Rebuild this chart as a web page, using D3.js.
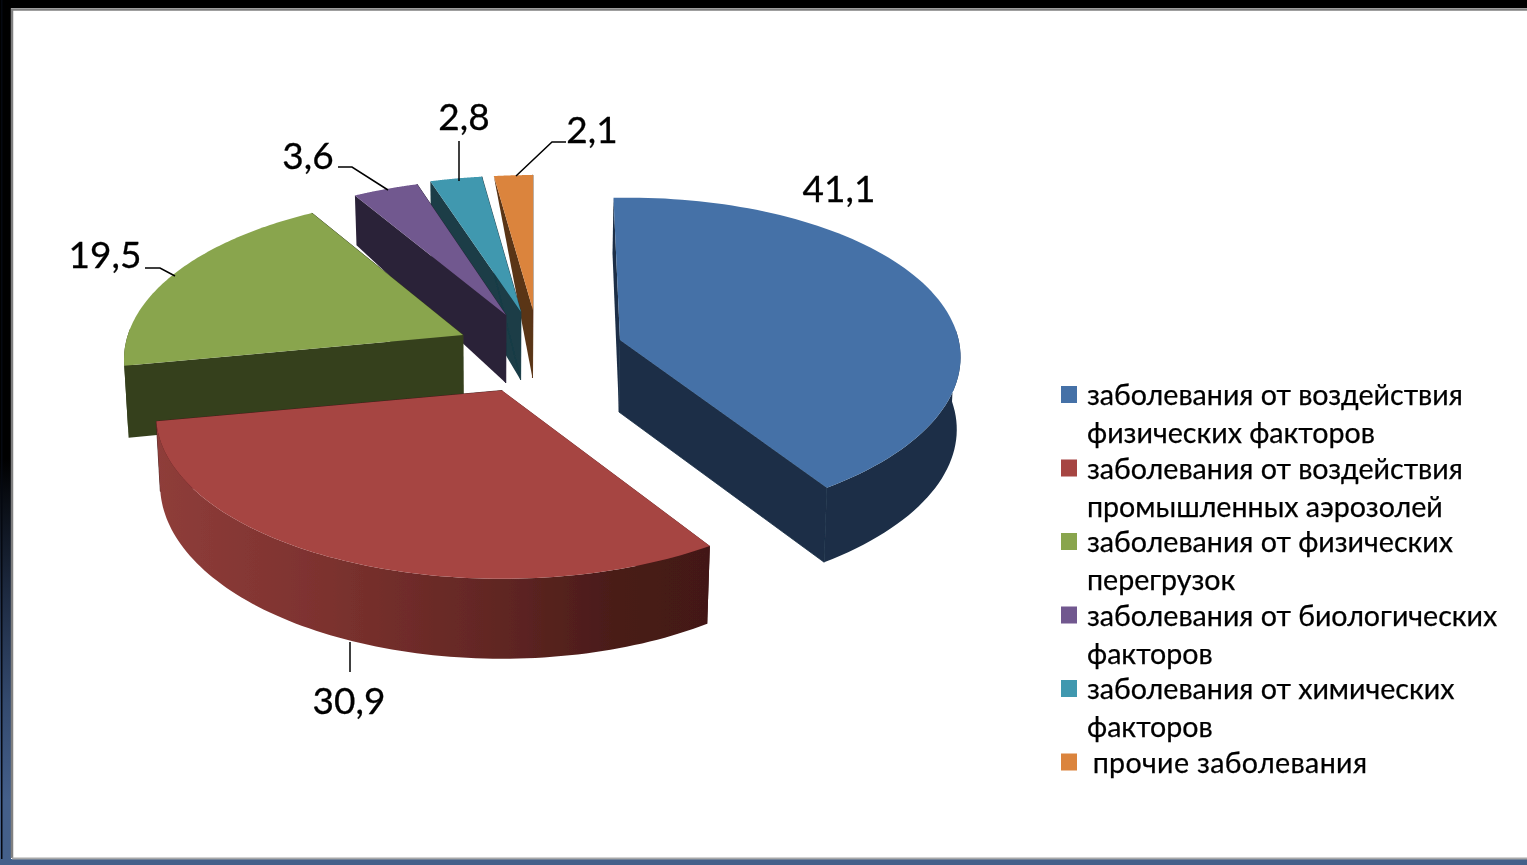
<!DOCTYPE html>
<html><head><meta charset="utf-8">
<script src="https://cdn.jsdelivr.net/npm/d3@7/dist/d3.min.js"></script>
<style>html,body{margin:0;padding:0;background:#fff;overflow:hidden}svg{display:block}</style>
</head><body><svg id="c" width="1527" height="865"></svg>
<script>
const values = [41.1, 30.9, 19.5, 3.6, 2.8, 2.1];
const valueLabels = ["41,1", "30,9", "19,5", "3,6", "2,8", "2,1"];
const legendLines = [
  ["заболевания от воздействия", "физических факторов"],
  ["заболевания от воздействия", "промышленных аэрозолей"],
  ["заболевания от физических", "перегрузок"],
  ["заболевания от биологических", "факторов"],
  ["заболевания от химических", "факторов"],
  [" прочие заболевания"]
];
const topColors = ["#4471a7", "#a64442", "#89a54e", "#71588f", "#4198af", "#db843d"];
const sideColors = ["#1b2e46", "url(#redWall)", "#36401e", "#2c2238", "#1a3c46", "#5a3518"];

// layout of the exploded slices (screen position of each slice's tip and per-slice projection tweaks)
const tipX = [620, 502, 463, 506, 521, 533];
const tipY = [340, 390.5, 335, 315, 312, 310];
const wallDepth = [72, 68, 70, 68, 68, 68];
const depthGrow = [0.3, 1, 1, 1, 1, 1];
const backFade = [0.2, 0, 0, 0.2, 0.2, 1.05];
const rxScale = [0.985, 1, 0.98, 0.98, 1, 1];
const ryScale = [1, 1, 1, 0.98, 0.98, 0.97];
const shearY = [0.02, 0, 0, 0, 0, 0];
const lean = [0.45, 0, 0, 0, 0, 0];
const persp = [0.125, 0.15, 0.15, 0.15, 0.15, 0.15];
const converge = [0.008, 0.012, 0.012, 0.012, 0.012, 0.012];
const RX = 342, RY = 160, VX = 490;

const svg = d3.select("#c");
const defs = svg.append("defs");
const soft = defs.append("filter").attr("id", "soft").attr("x", "-5%").attr("y", "-5%").attr("width", "110%").attr("height", "110%");
soft.append("feGaussianBlur").attr("stdDeviation", 0.5);
const bandGrad = defs.append("linearGradient").attr("id", "band").attr("x1", 0).attr("x2", 0).attr("y1", 0).attr("y2", 1);
[[0, "#000"], [0.53, "#000"], [0.69, "#1e2b42"], [0.81, "#33496d"], [0.925, "#445f8a"], [1, "#44608a"]].forEach(s =>
  bandGrad.append("stop").attr("offset", s[0]).attr("stop-color", s[1]));
const redGrad = defs.append("linearGradient").attr("id", "redWall").attr("gradientUnits", "userSpaceOnUse")
  .attr("x1", 154).attr("x2", 706).attr("y1", 0).attr("y2", 0);
[[0, "#8f3d3a"], [0.3, "#7d322f"], [0.6, "#632724"], [0.85, "#481b18"], [1, "#431917"]].forEach(s =>
  redGrad.append("stop").attr("offset", s[0]).attr("stop-color", s[1]));

// frame
svg.append("rect").attr("width", 1527).attr("height", 865).attr("fill", "#fff");
svg.append("rect").attr("x", 0).attr("y", 0).attr("width", 1527).attr("height", 8).attr("fill", "#000");
svg.append("rect").attr("x", 0).attr("y", 0).attr("width", 11).attr("height", 865).attr("fill", "url(#band)");
svg.append("rect").attr("x", 1).attr("y", 0).attr("width", 1.5).attr("height", 865).attr("fill", "#050810");
svg.append("rect").attr("x", 0).attr("y", 859).attr("width", 1527).attr("height", 6).attr("fill", "#44608a");
svg.append("path").attr("d", "M12,858V9.5H1527").attr("fill", "none").attr("stroke", "#808080").attr("stroke-width", 2.5);
svg.append("path").attr("d", "M12,858.5H1527").attr("fill", "none").attr("stroke", "#a8a8a8").attr("stroke-width", 2);

const pie = d3.pie().sort(null)(values);

function project(i, a, r) {
  const zz = -Math.cos(a) * r, x = Math.sin(a) * r;
  const w = 1 / (1 - persp[i] * zz);
  const dx = RX * rxScale[i] * x * w;
  return {
    x: tipX[i] + dx + (tipX[i] - VX) * (w - 1) * lean[i],
    y: tipY[i] + RY * ryScale[i] * zz * w - shearY[i] * dx,
    w, zz
  };
}
function lower(i, p) {
  const fade = Math.max(0, 1 + (p.zz < 0 ? p.zz * backFade[i] : 0));
  const d = wallDepth[i] * (1 + (p.w - 1) * depthGrow[i]) * fade;
  return [p.x + (VX - p.x) * converge[i], p.y + d];
}
const line = d3.line().x(d => d[0]).y(d => d[1]);

function arcPoints(i) {
  const s = pie[i], n = 90, pts = [];
  const t = d3.scaleLinear().domain([0, n]).range([s.startAngle, s.endAngle]);
  for (let k = 0; k <= n; k++) pts.push(project(i, t(k), 1));
  return pts;
}

const order = [0, 5, 4, 3, 2, 1];
const g = svg.append("g").attr("filter", "url(#soft)");
order.forEach(i => {
  const rim = arcPoints(i), tip = project(i, 0, 0);
  const first = rim[0], last = rim[rim.length - 1];
  const flat = sideColors[i] === "url(#redWall)" ? "#431917" : sideColors[i];
  const face = p => line([[tip.x, tip.y], [p.x, p.y], lower(i, p), lower(i, tip)]) + "Z";
  g.append("path").attr("d", face(first)).attr("fill", flat);
  g.append("path").attr("d", face(last)).attr("fill", flat).attr("stroke", flat).attr("stroke-width", 0.8);
  const front = rim.filter(p => p.zz > -0.05);
  if (front.length > 1) {
    const wall = front.map(p => [p.x, p.y]).concat(front.slice().reverse().map(p => lower(i, p)));
    g.append("path").attr("d", line(wall) + "Z").attr("fill", sideColors[i]);
  }
  const top = [[tip.x, tip.y]].concat(rim.map(p => [p.x, p.y]));
  g.append("path").attr("d", line(top) + "Z").attr("fill", topColors[i]);
});

const txt = svg.append("g").attr("filter", "url(#soft)");
// data labels and leaders
const labelFont = "Lato, 'Open Sans', sans-serif";
const labelPos = [[839, 202], [349, 714], [105, 268], [308, 169], [464, 130], [592, 143]];
const leaders = [null, [[350, 642], [350, 672]], [[145, 268], [160, 268], [175, 276]],
  [[338, 167], [352, 167], [388, 190]], [[459, 141], [459, 181]], [[566, 142], [552, 142], [516, 176]]];
leaders.forEach(l => { if (l) txt.append("path").attr("d", line(l)).attr("fill", "none").attr("stroke", "#000").attr("stroke-width", 1.5); });
valueLabels.forEach((t, i) => txt.append("text").attr("x", labelPos[i][0]).attr("y", labelPos[i][1])
  .attr("text-anchor", "middle").attr("font-family", labelFont).attr("font-size", 37).attr("fill", "#000")
  .attr("stroke", "#000").attr("stroke-width", 0.3).text(t));

// legend
const legendFont = "Lato, 'Open Sans', sans-serif";
const itemY = d3.scaleLinear().domain([0, 1]).range([405, 478.5]);
const lineGap = 38;
legendLines.forEach((lines, i) => {
  txt.append("rect").attr("x", 1061).attr("y", itemY(i) - 19).attr("width", 16).attr("height", 17).attr("fill", topColors[i]);
  lines.forEach((t, j) => {
    txt.append("text").attr("x", lines.length === 1 ? 1085 : 1087).attr("y", itemY(i) + j * lineGap).style("white-space", "pre")
      .attr("letter-spacing", lines.length === 1 ? 0.35 : 0)
      .attr("font-family", legendFont).attr("font-size", 28.6).attr("fill", "#000")
      .attr("stroke", "#000").attr("stroke-width", 0.25).text(t);
  });
});
</script></body></html>
